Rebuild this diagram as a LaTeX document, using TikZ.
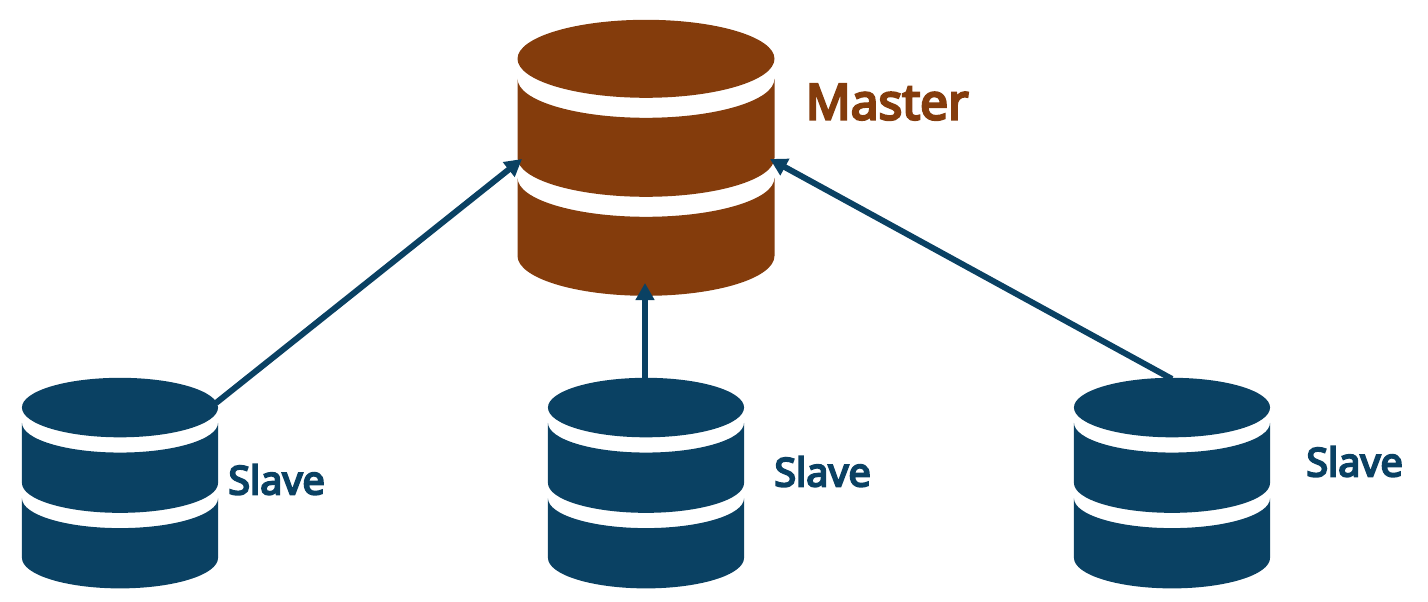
\documentclass[tikz,border=0pt]{standalone}
\usepackage{fontspec}
\setmainfont{Noto Sans}
\newfontfamily\labelfont{Noto Sans}[FakeBold=5]
\usetikzlibrary{positioning, arrows.meta}
\definecolor{masterbrown}{HTML}{843C0C}
\definecolor{slaveblue}{HTML}{0A4163}
\tikzset{
  masterbox/.style={minimum width=257pt,minimum height=276pt,inner sep=0pt},
  slavebox/.style={minimum width=196pt,minimum height=209pt,inner sep=0pt},
  slavetext/.style={text=slaveblue,font=\fontsize{39.5}{40}\labelfont,inner sep=0pt},
  replica/.style={draw=slaveblue,line width=6pt,-{Triangle[length=17pt,width=18pt]}}
}
\newcommand{\dbicon}[3]{%
  \begin{scope}[shift={(#1.north)},scale=#2]
    \fill[#3] (0,39) ellipse [x radius=128.5,y radius=39];
    \fill[#3] (-128.5,59) arc [start angle=180,end angle=0,x radius=128.5,y radius=39]
      -- (128.5,138) arc [start angle=0,end angle=180,x radius=128.5,y radius=39] -- cycle;
    \fill[#3] (-128.5,158) arc [start angle=180,end angle=0,x radius=128.5,y radius=39]
      -- (128.5,236) arc [start angle=0,end angle=180,x radius=128.5,y radius=40] -- cycle;
  \end{scope}}
\begin{document}
\begin{tikzpicture}[x=1pt,y=-1pt,node distance=11pt]
    \useasboundingbox (0,0) rectangle (1428,602);
    \node[masterbox] (master) at (646,158) {};
    \node[slavebox] (slaveA) at (120,482.5) {};
    \node[slavebox] (slaveB) at (646,482.5) {};
    \node[slavebox] (slaveC) at (1172,482.5) {};
    \dbicon{master}{1}{masterbrown}
    \dbicon{slaveA}{0.763}{slaveblue}
    \dbicon{slaveB}{0.763}{slaveblue}
    \dbicon{slaveC}{0.763}{slaveblue}
    \node[text=masterbrown,font=\fontsize{49.5}{50}\labelfont,inner sep=0pt,right=31pt of master,yshift=56pt] (masterlabel) {Master};
    \node[slavetext,right=10pt of slaveA,yshift=3pt] (labelA) {Slave};
    \node[slavetext,right=30pt of slaveB,yshift=11pt] (labelB) {Slave};
    \node[slavetext,right=36pt of slaveC,yshift=21pt] (labelC) {Slave};
    \coordinate (inA) at (522,159);
    \coordinate (inB) at (645,283);
    \coordinate (inC) at (770,159);
    \coordinate (outA) at (216,403);
    \coordinate (outB) at (645,378);
    \coordinate (outC) at (1172,379);
    \draw[replica] (outA) -- (inA);
    \draw[replica] (outB) -- (inB);
    \draw[replica] (outC) -- (inC);
  \end{tikzpicture}
\end{document}
